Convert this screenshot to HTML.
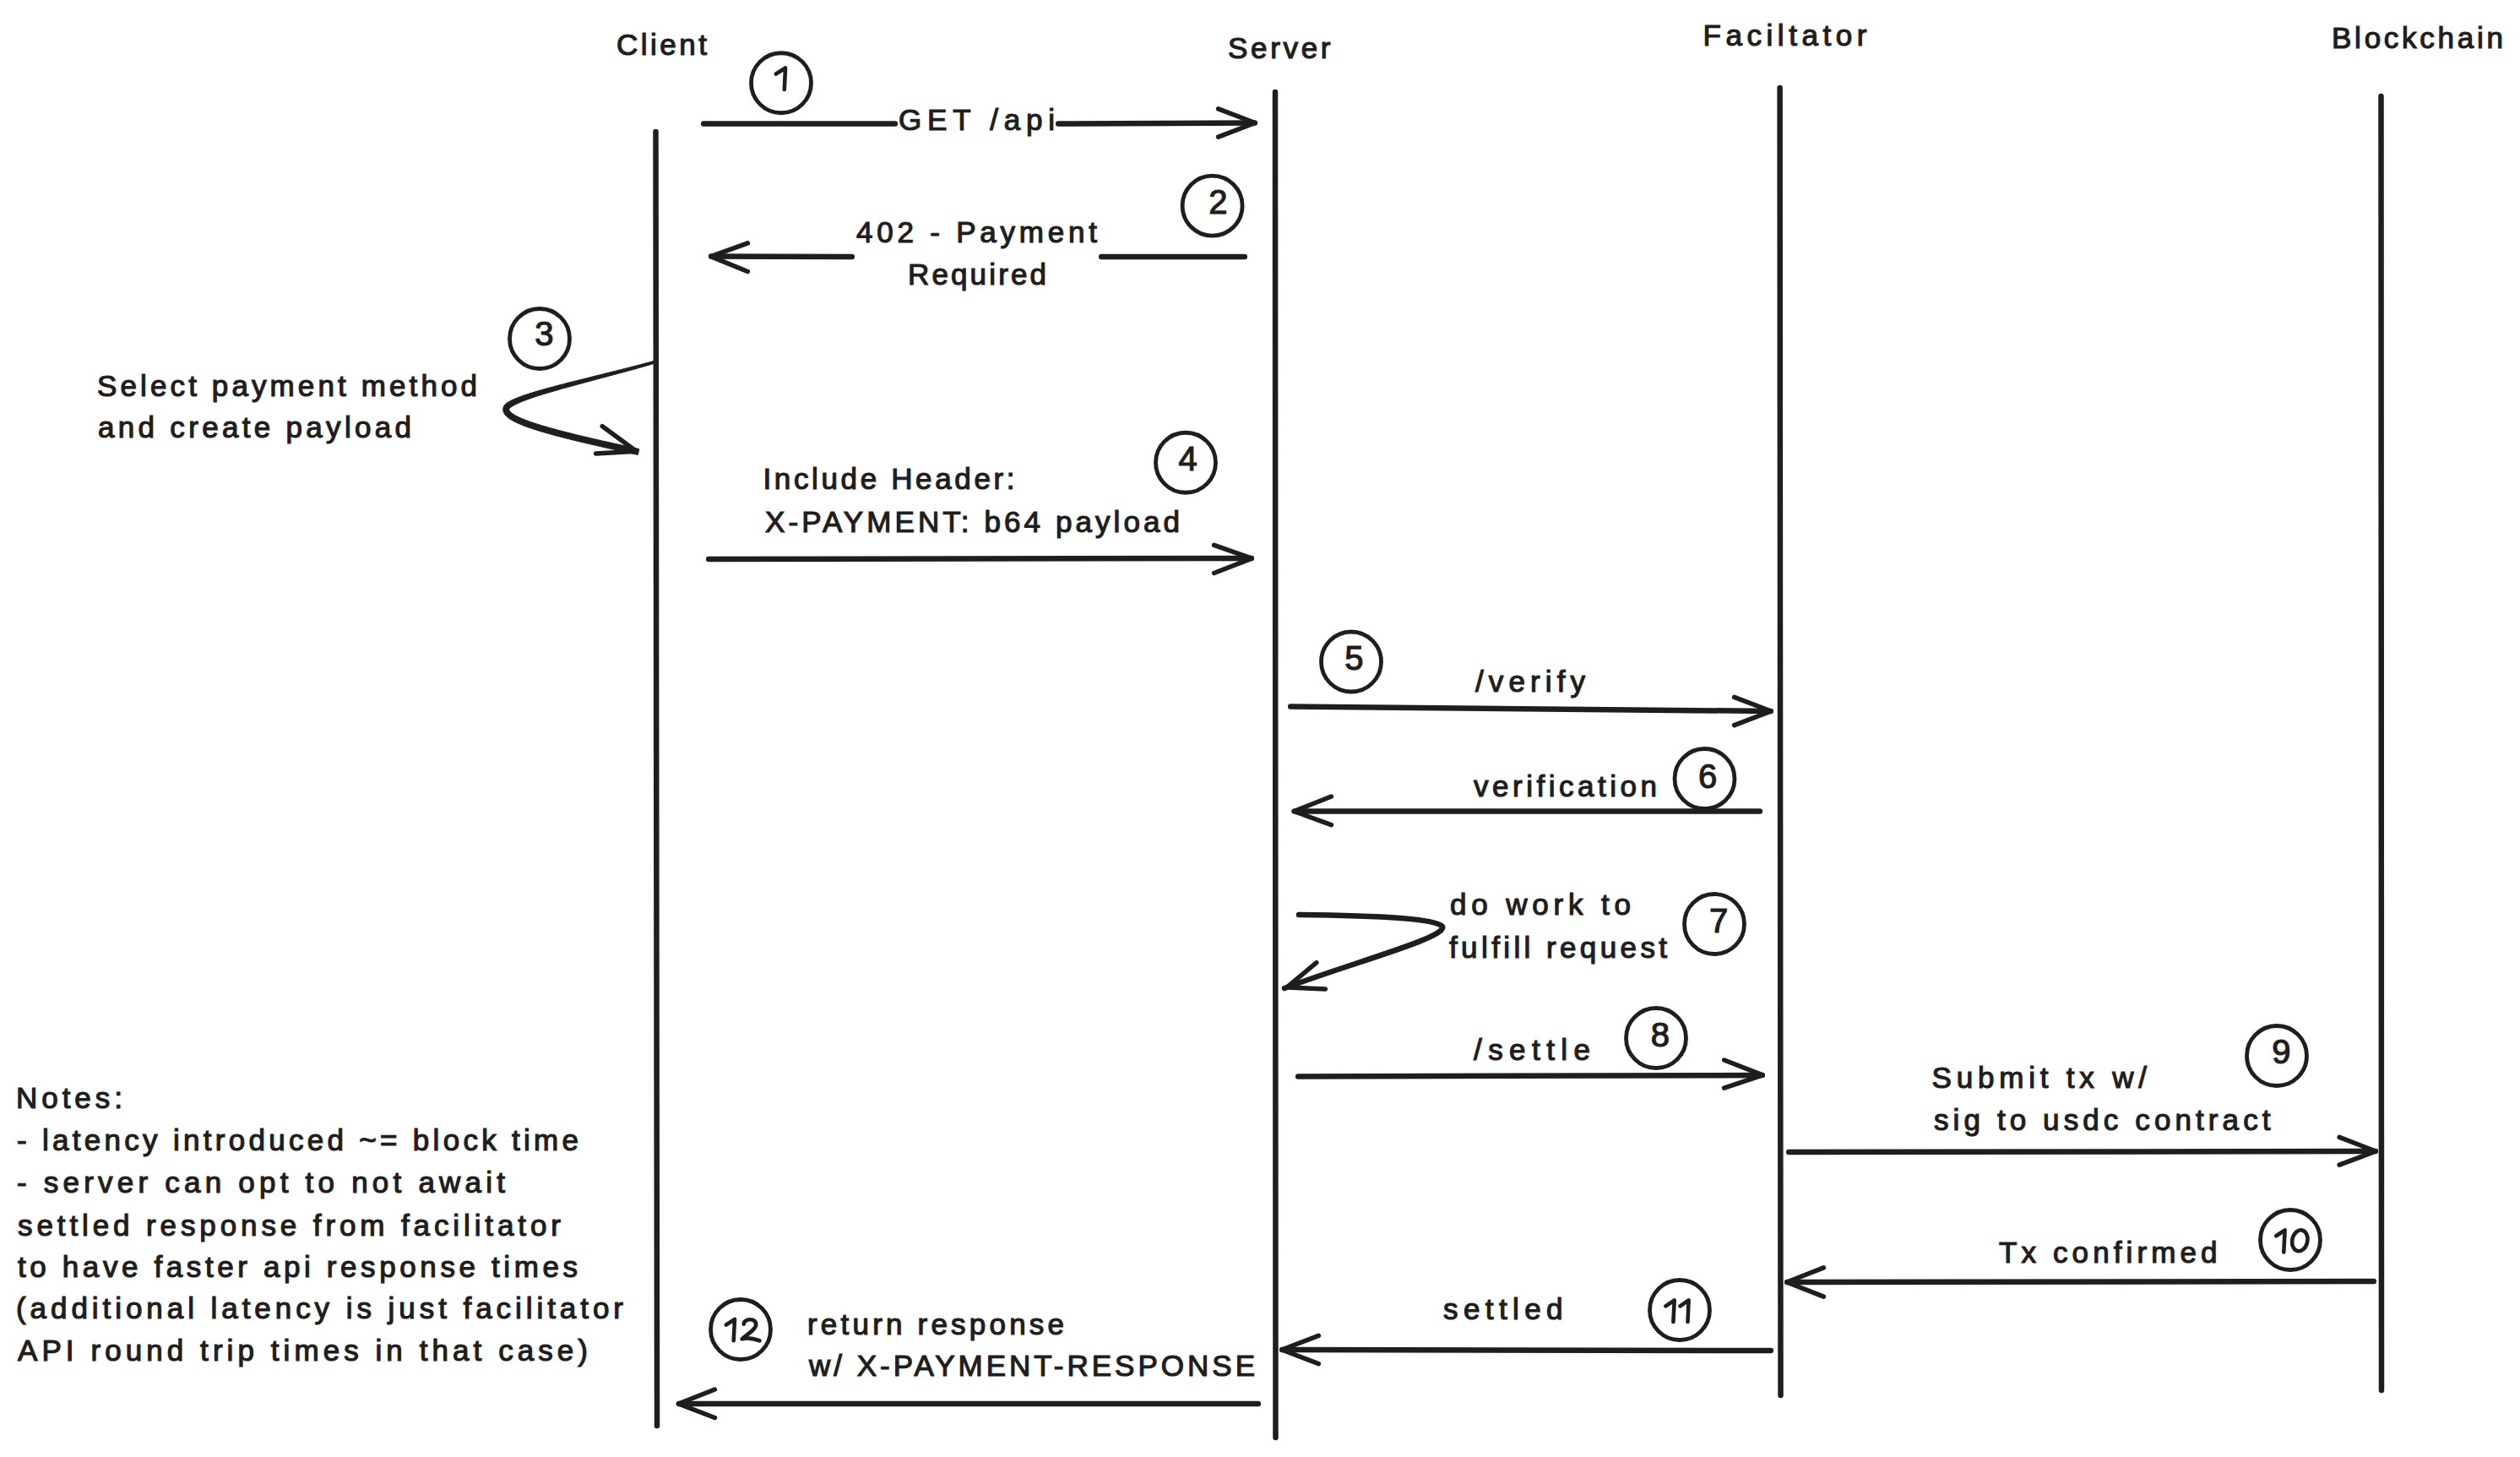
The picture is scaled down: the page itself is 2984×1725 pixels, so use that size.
<!DOCTYPE html><html><head><meta charset="utf-8"><style>html,body{margin:0;padding:0;background:#fff;width:2984px;height:1725px;overflow:hidden}svg{display:block}text{font-family:"Liberation Sans",sans-serif;fill:#1e1e1e;stroke:#1e1e1e;stroke-width:1.2px}</style></head><body>
<svg width="2984" height="1725" viewBox="0 0 2984 1725">
<rect width="2984" height="1725" fill="#fff"/>
<g fill="none" stroke="#1e1e1e" stroke-linecap="round" stroke-linejoin="round">
<path d="M776.5,156 L778,1688" stroke-width="6.5"/>
<path d="M1510,109 L1510.5,1702" stroke-width="6.5"/>
<path d="M2107.6,104 L2108.5,1652" stroke-width="6.5"/>
<path d="M2819.5,114 L2820,1646" stroke-width="6.5"/>
<path d="M833.2,146.5 L1059.8,146.5" stroke-width="6.5"/>
<path d="M1253.2,146.5 L1485.8,145.5" stroke-width="6.5"/>
<path d="M1473.8,304.0 L1304.2,304.0" stroke-width="6.5"/>
<path d="M1008.8,304.0 L842.2,303.5" stroke-width="6.5"/>
<path d="M839.2,662.0 L1481.8,661.0" stroke-width="6.5"/>
<path d="M1528.2,836.5 L2096.8,842.0" stroke-width="6.5"/>
<path d="M2083.8,960.5 L1532.8,960.5" stroke-width="6.5"/>
<path d="M1538,1083 C1640,1084 1700,1088 1708,1097 C1714,1110 1600,1140 1521,1170" stroke-width="6.5"/>
<path d="M1537.2,1274.5 L2086.8,1273.0" stroke-width="6.5"/>
<path d="M2118.2,1364.0 L2812.8,1363.0" stroke-width="6.5"/>
<path d="M2810.8,1517.0 L2116.2,1518.0" stroke-width="6.5"/>
<path d="M2096.8,1599.0 L1518.2,1598.0" stroke-width="6.5"/>
<path d="M1489.8,1662.0 L804.0,1662.0" stroke-width="6.5"/>
<path d="M773.6,427.6 L769.9,428.6 L766.1,429.6 L762.4,430.6 L758.6,431.6 L754.8,432.6 L751.0,433.6 L747.2,434.6 L743.4,435.5 L739.6,436.5 L735.8,437.5 L732.0,438.4 L728.2,439.4 L724.4,440.3 L720.6,441.3 L716.8,442.2 L713.0,443.2 L709.3,444.1 L705.5,445.0 L701.8,445.9 L698.1,446.9 L694.5,447.8 L690.8,448.7 L687.2,449.6 L683.7,450.5 L680.1,451.4 L676.6,452.2 L673.2,453.1 L669.8,454.0 L666.4,454.9 L663.1,455.7 L659.8,456.6 L656.6,457.4 L653.5,458.3 L650.4,459.1 L647.3,459.9 L644.4,460.8 L641.5,461.6 L638.6,462.4 L635.8,463.2 L633.2,464.0 L630.5,464.8 L628.0,465.6 L625.5,466.4 L623.1,467.2 L620.8,467.9 L618.6,468.7 L616.5,469.5 L614.4,470.3 L612.5,471.0 L610.6,471.8 L608.9,472.5 L607.2,473.3 L605.6,474.0 L604.2,474.8 L602.8,475.6 L601.5,476.3 L600.3,477.1 L599.2,478.0 L598.2,478.8 L597.1,480.0 L596.4,481.5 L596.0,482.7 L595.8,483.9 L595.8,485.2 L595.9,486.4 L596.2,487.6 L596.7,488.8 L597.3,489.8 L598.0,490.9 L598.8,491.9 L599.7,492.8 L600.7,493.7 L601.8,494.6 L602.9,495.5 L604.2,496.3 L605.5,497.2 L607.0,498.0 L608.5,498.8 L610.1,499.6 L611.9,500.5 L613.7,501.3 L615.6,502.1 L617.6,502.9 L619.7,503.8 L621.8,504.6 L624.1,505.4 L626.5,506.3 L629.0,507.1 L631.5,508.0 L634.2,508.8 L636.9,509.7 L639.8,510.6 L642.7,511.4 L645.7,512.3 L648.9,513.2 L652.1,514.1 L655.4,515.0 L658.7,515.9 L662.2,516.8 L665.8,517.8 L669.5,518.7 L673.2,519.6 L677.0,520.6 L681.0,521.6 L685.0,522.5 L689.1,523.5 L693.2,524.5 L697.5,525.5 L701.9,526.5 L706.3,527.5 L710.8,528.6 L715.4,529.6 L720.1,530.7 L724.9,531.7 L729.8,532.8 L734.7,533.9 L739.7,535.0 L744.8,536.1 L750.0,537.3 L755.3,538.4 L756.7,531.6 L751.5,530.4 L746.3,529.3 L741.2,528.2 L736.2,527.1 L731.3,526.0 L726.4,524.9 L721.7,523.8 L717.0,522.8 L712.4,521.8 L707.9,520.7 L703.4,519.7 L699.1,518.7 L694.8,517.7 L690.7,516.7 L686.6,515.7 L682.6,514.8 L678.7,513.8 L674.9,512.8 L671.2,511.9 L667.5,511.0 L664.0,510.1 L660.5,509.2 L657.2,508.2 L653.9,507.4 L650.8,506.5 L647.7,505.6 L644.7,504.7 L641.8,503.9 L639.0,503.0 L636.3,502.2 L633.7,501.3 L631.2,500.5 L628.8,499.7 L626.5,498.9 L624.3,498.1 L622.2,497.2 L620.2,496.5 L618.3,495.7 L616.5,494.9 L614.8,494.1 L613.2,493.4 L611.8,492.6 L610.4,491.9 L609.1,491.2 L608.0,490.4 L607.0,489.7 L606.1,489.1 L605.3,488.4 L604.6,487.8 L604.0,487.2 L603.6,486.7 L603.3,486.2 L603.0,485.8 L602.9,485.4 L602.8,485.1 L602.8,484.8 L602.8,484.6 L602.8,484.3 L602.9,484.0 L602.9,484.0 L603.1,483.8 L603.7,483.2 L604.4,482.6 L605.3,481.9 L606.3,481.3 L607.4,480.6 L608.7,479.8 L610.1,479.1 L611.6,478.3 L613.2,477.6 L614.9,476.8 L616.8,476.0 L618.7,475.2 L620.7,474.4 L622.9,473.6 L625.1,472.8 L627.4,471.9 L629.8,471.1 L632.3,470.3 L634.8,469.4 L637.5,468.5 L640.2,467.7 L643.0,466.8 L645.9,465.9 L648.8,465.1 L651.8,464.2 L654.9,463.3 L658.0,462.4 L661.2,461.5 L664.4,460.5 L667.7,459.6 L671.0,458.7 L674.4,457.8 L677.8,456.8 L681.3,455.9 L684.8,454.9 L688.4,454.0 L691.9,453.0 L695.6,452.0 L699.2,451.1 L702.9,450.1 L706.6,449.1 L710.3,448.1 L714.0,447.1 L717.8,446.1 L721.5,445.1 L725.3,444.1 L729.1,443.1 L732.9,442.0 L736.7,441.0 L740.5,440.0 L744.3,438.9 L748.1,437.9 L751.9,436.9 L755.7,435.8 L759.5,434.7 L763.2,433.7 L767.0,432.6 L770.7,431.5 L774.4,430.4Z" fill="#1e1e1e" stroke-width="1"/>
<path d="M1442.6,128.9 L1486.2,145.5 L1442.6,162.1" stroke-width="5.5"/>
<path d="M885.4,287.9 L841.7,303.6 L885.4,321.5" stroke-width="5.5"/>
<path d="M713.2,504.6 L753.4,534.2 L705.7,536.9" stroke-width="5.5"/>
<path d="M1437.6,645.4 L1482.3,661.1 L1437.6,678.5" stroke-width="5.5"/>
<path d="M2053.6,825.4 L2097.2,842.0 L2053.6,858.6" stroke-width="5.5"/>
<path d="M1576.4,943.0 L1532.2,960.5 L1576.4,976.6" stroke-width="5.5"/>
<path d="M1558.9,1139.7 L1523.6,1169.1 L1569.3,1170.9" stroke-width="5.5"/>
<path d="M2041.6,1255.0 L2087.3,1272.9 L2041.6,1288.2" stroke-width="5.5"/>
<path d="M2770.1,1346.4 L2813.3,1363.0 L2770.1,1379.1" stroke-width="5.5"/>
<path d="M2159.4,1500.9 L2115.8,1518.0 L2159.4,1535.1" stroke-width="5.5"/>
<path d="M1561.4,1581.4 L1517.8,1598.0 L1561.4,1614.6" stroke-width="5.5"/>
<path d="M846.4,1645.0 L803.4,1662.0 L846.4,1678.5" stroke-width="5.5"/>
<circle cx="925" cy="98.25" r="35.5" stroke-width="4.8"/>
<circle cx="1435.6" cy="243.6" r="35.5" stroke-width="4.8"/>
<circle cx="639" cy="401" r="35.5" stroke-width="4.8"/>
<circle cx="1404" cy="547.75" r="35.5" stroke-width="4.8"/>
<circle cx="1600" cy="783.5" r="35.5" stroke-width="4.8"/>
<circle cx="2018.5" cy="922" r="35.5" stroke-width="4.8"/>
<circle cx="2030" cy="1094" r="35.5" stroke-width="4.8"/>
<circle cx="1961" cy="1229" r="35.5" stroke-width="4.8"/>
<circle cx="2696" cy="1250" r="35.5" stroke-width="4.8"/>
<circle cx="2712" cy="1468" r="35.5" stroke-width="4.8"/>
<circle cx="1989" cy="1551" r="35.5" stroke-width="4.8"/>
<circle cx="877" cy="1574" r="35.5" stroke-width="4.8"/>
</g>
<g font-size="35.0">
<text x="730.00" y="65.25" textLength="107.00" lengthAdjust="spacing">Client</text>
<text x="1454.00" y="69.00" textLength="121.50" lengthAdjust="spacing">Server</text>
<text x="2016.50" y="53.50" textLength="194.00" lengthAdjust="spacing">Faciltator</text>
<text x="2761.00" y="56.50" textLength="203.00" lengthAdjust="spacing">Blockchain</text>
<text x="1064.00" y="154.00" textLength="185.00" lengthAdjust="spacing">GET /api</text>
<text x="1014.00" y="286.50" textLength="285.00" lengthAdjust="spacing">402 - Payment</text>
<text x="1075.00" y="336.50" textLength="164.00" lengthAdjust="spacing">Required</text>
<text x="115.00" y="468.60" textLength="450.00" lengthAdjust="spacing">Select payment method</text>
<text x="116.00" y="518.20" textLength="371.00" lengthAdjust="spacing">and create payload</text>
<text x="903.50" y="579.00" textLength="298.00" lengthAdjust="spacing">Include Header:</text>
<text x="906.00" y="630.25" textLength="491.00" lengthAdjust="spacing">X-PAYMENT: b64 payload</text>
<text x="1747.00" y="818.50" textLength="130.00" lengthAdjust="spacing">/verify</text>
<text x="1745.00" y="942.75" textLength="217.00" lengthAdjust="spacing">verification</text>
<text x="1717.00" y="1082.75" textLength="214.00" lengthAdjust="spacing">do work to</text>
<text x="1716.00" y="1133.50" textLength="258.00" lengthAdjust="spacing">fulfill request</text>
<text x="1745.00" y="1255.00" textLength="138.00" lengthAdjust="spacing">/settle</text>
<text x="2287.50" y="1287.75" textLength="254.50" lengthAdjust="spacing">Submit tx w/</text>
<text x="2290.00" y="1337.75" textLength="398.50" lengthAdjust="spacing">sig to usdc contract</text>
<text x="2367.00" y="1494.50" textLength="258.50" lengthAdjust="spacing">Tx confirmed</text>
<text x="1709.00" y="1562.00" textLength="141.50" lengthAdjust="spacing">settled</text>
<text x="956.00" y="1580.40" textLength="304.00" lengthAdjust="spacing">return response</text>
<text x="958.00" y="1628.70" textLength="528.00" lengthAdjust="spacing">w/ X-PAYMENT-RESPONSE</text>
<text x="19.00" y="1311.80" textLength="126.00" lengthAdjust="spacing">Notes:</text>
<text x="20.00" y="1361.70" textLength="665.00" lengthAdjust="spacing">- latency introduced ~= block time</text>
<text x="20.00" y="1412.40" textLength="578.00" lengthAdjust="spacing">- server can opt to not await</text>
<text x="21.00" y="1462.80" textLength="643.00" lengthAdjust="spacing">settled response from facilitator</text>
<text x="21.00" y="1512.00" textLength="663.00" lengthAdjust="spacing">to have faster api response times</text>
<text x="19.00" y="1561.00" textLength="719.00" lengthAdjust="spacing">(additional latency is just facilitator</text>
<text x="21.00" y="1610.80" textLength="675.00" lengthAdjust="spacing">API round trip times in that case)</text>
<text x="1442.25" y="252.50" text-anchor="middle" font-size="40">2</text>
<text x="644.40" y="409.00" text-anchor="middle" font-size="40">3</text>
<text x="1406.50" y="557.00" text-anchor="middle" font-size="40">4</text>
<text x="1603.25" y="793.00" text-anchor="middle" font-size="40">5</text>
<text x="2022.00" y="932.50" text-anchor="middle" font-size="40">6</text>
<text x="2035.00" y="1104.00" text-anchor="middle" font-size="40">7</text>
<text x="1965.75" y="1238.75" text-anchor="middle" font-size="40">8</text>
<text x="2701.25" y="1259.00" text-anchor="middle" font-size="40">9</text>
<g fill="none" stroke="#1e1e1e" stroke-linecap="round" stroke-linejoin="round" stroke-width="4.6">
<path d="M918.8,87.5 L930,80.5 L928.8,106"/>
<path d="M2695.2,1463.2 L2705.6,1456.5 L2704.3,1482.5"/>
<path d="M1972.3,1546.3 L1982.7,1539.5 L1981.4,1565"/>
<path d="M1989.4,1546.3 L1999.6,1539.5 L1998.5,1565"/>
<path d="M859.8,1568.5 L870,1562 L868.7,1587.2"/>
<path d="M880.7,1567.7 C881,1561 895.5,1559.5 895.2,1568.5 C895,1574 884,1580 878.6,1585.3 C886,1583 893,1585 899.5,1587.2"/>
<ellipse cx="2723.3" cy="1468.8" rx="9" ry="12.6" transform="rotate(12 2723.3 1468.8)"/>
</g>
</g></svg></body></html>
